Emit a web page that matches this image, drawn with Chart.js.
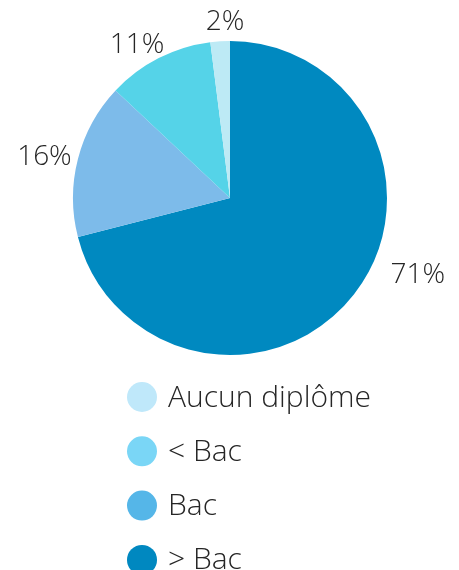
<!DOCTYPE html>
<html>
<head>
<meta charset="utf-8">
<script src="https://cdn.jsdelivr.net/npm/chart.js@4/dist/chart.umd.min.js"></script>
<style>
  html, body { margin: 0; padding: 0; background: #fff; }
  canvas { display: block; }
</style>
</head>
<body>
<canvas id="pie" width="459" height="570"></canvas>
<script>
// slices go clockwise from 12 o'clock
const categories = ['> Bac', 'Bac', '< Bac', 'Aucun diplôme'];
const shares = [71, 16, 11, 2];
const sliceColors = ['#0089c0', '#7dbbea', '#55d3e8', '#bdeaf5'];
const legendColors = ['#0088c0', '#55b6e8', '#7ad6f6', '#bfe8fa'];

const FONT = '"Open Sans", "Noto Sans", sans-serif';
const TEXT = '#262626';

// percentage labels outside the pie (angle nudge in degrees, extra radius in px)
const outsideLabels = {
  id: 'outsideLabels',
  afterDatasetsDraw(chart, args, opts) {
    const ctx = chart.ctx;
    const meta = chart.getDatasetMeta(0);
    ctx.save();
    ctx.font = '300 28px ' + FONT;
    ctx.fillStyle = TEXT;
    ctx.textAlign = 'center';
    ctx.textBaseline = 'middle';
    meta.data.forEach((arc, i) => {
      const p = arc.getProps(['x', 'y', 'startAngle', 'endAngle', 'outerRadius'], true);
      const mid = (p.startAngle + p.endAngle) / 2 + opts.nudge[i][0] * Math.PI / 180;
      const r = p.outerRadius + opts.nudge[i][1];
      ctx.fillText(shares[i] + '%', p.x + Math.cos(mid) * r, p.y + Math.sin(mid) * r);
    });
    ctx.restore();
  }
};

// vertical legend under the pie, listed in reverse slice order
const stackedLegend = {
  id: 'stackedLegend',
  afterDraw(chart, args, opts) {
    const ctx = chart.ctx;
    ctx.save();
    ctx.font = '300 30px ' + FONT;
    ctx.textBaseline = 'middle';
    ctx.textAlign = 'left';
    const order = categories.map((c, i) => i).reverse();
    order.forEach((idx, row) => {
      const y = opts.top + row * opts.rowGap;
      ctx.fillStyle = legendColors[idx];
      ctx.beginPath();
      ctx.arc(opts.left, y, 15, 0, Math.PI * 2);
      ctx.fill();
      ctx.fillStyle = TEXT;
      ctx.fillText(categories[idx], opts.left + 26, y + 1);
    });
    ctx.restore();
  }
};

new Chart(document.getElementById('pie'), {
  type: 'pie',
  data: {
    labels: categories,
    datasets: [{
      data: shares,
      backgroundColor: sliceColors,
      borderWidth: 0
    }]
  },
  options: {
    responsive: false,
    animation: false,
    layout: { padding: { top: 41, bottom: 215, left: 73, right: 72 } },
    plugins: {
      legend: { display: false },
      tooltip: { enabled: false },
      outsideLabels: { nudge: [[-15.5, 46], [-2, 33], [-4.3, 22], [2, 19]] },
      stackedLegend: { left: 142, top: 397, rowGap: 54.3 }
    }
  },
  plugins: [outsideLabels, stackedLegend]
});
</script>
</body>
</html>
